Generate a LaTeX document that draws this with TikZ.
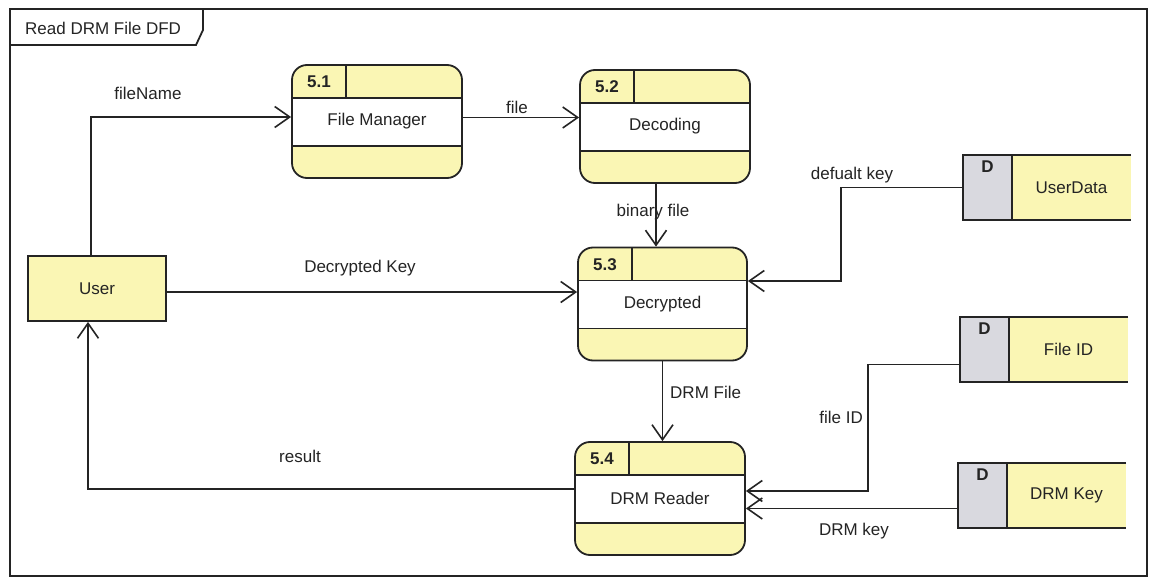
\documentclass[tikz,border=0pt]{standalone}
\usepackage{fontspec}
\setmainfont{Liberation Sans}
\usetikzlibrary{arrows.meta}

\definecolor{procfill}{RGB}{250,246,180}
\definecolor{storegray}{RGB}{217,217,223}
\definecolor{ink}{RGB}{36,36,36}

\tikzset{
  txt/.style={font=\fontsize{17}{20}\selectfont, text=ink, inner sep=0pt},
  idtxt/.style={font=\fontsize{17}{20}\selectfont\bfseries, text=ink, inner sep=0pt},
  edge/.style={draw=ink, line width=1.8pt},
  flow/.style={draw=ink, line width=1.6pt, -{Straight Barb[length=15pt,width=21pt,line width=1.6pt]}},
  % process bubble: id cell on top, name band in the middle, empty footer
  proc/.style={draw=ink, line width=1.8pt, rounded corners=15pt, fill=procfill,
    minimum width=170pt, minimum height=113pt, inner sep=0pt, txt,
    path picture={
      \begin{scope}[sharp corners]
      \fill[white] ([yshift=-33pt]path picture bounding box.north west)
        rectangle ([yshift=32pt]path picture bounding box.south east);
      \draw[edge] ([yshift=-33pt]path picture bounding box.north west)
        -- ([yshift=-33pt]path picture bounding box.north east);
      \draw[edge] ([yshift=32pt]path picture bounding box.south west)
        -- ([yshift=32pt]path picture bounding box.south east);
      \draw[edge] ([xshift=54pt]path picture bounding box.north west)
        -- ([xshift=54pt,yshift=-33pt]path picture bounding box.north west);
      \node[idtxt] at ([xshift=27pt,yshift=-17pt]path picture bounding box.north west) {#1};
      \end{scope}
    }},
  % data store: grey "D" cell, open on the right
  store/.style={minimum width=168pt, minimum height=65pt, inner sep=0pt, fill=procfill,
    path picture={
      \fill[storegray] (path picture bounding box.north west)
        rectangle ([xshift=49pt]path picture bounding box.south west);
      \draw[edge] ([xshift=49pt]path picture bounding box.north west)
        -- ([xshift=49pt]path picture bounding box.south west);
      \node[idtxt] at ([xshift=24.5pt,yshift=-12pt]path picture bounding box.north west) {D};
    }},
  entity/.style={draw=ink, line width=1.8pt, fill=procfill, minimum width=138pt,
    minimum height=65pt, inner sep=0pt, txt},
}

\begin{document}
\begin{tikzpicture}[x=1pt,y=-1pt]
\useasboundingbox (0,0) rectangle (1154,580);
\fill[white] (0,0) rectangle (1154,580);

% diagram frame with title tab
\draw[edge] (10,9) rectangle (1147,576);
\draw[edge] (10,45) -- (196,45) -- (203,30) -- (203,9);
\node[txt, anchor=west] (title) at (25,28) {Read DRM File DFD};

% external entity
\node[entity] (user) at (97,288.5) {User};

% processes
\node[proc=5.1] (p51) at (377,121.5) {File Manager};
\node[proc=5.2] (p52) at (665,126.5) {Decoding};
\node[proc=5.3, minimum width=169pt] (p53) at (662.5,304) {Decrypted};
\node[proc=5.4] (p54) at (660,498.5) {DRM Reader};

% data stores
\node[store] (ud) at (1047,187.5) {};
\node[store] (fid) at (1044,349.5) {};
\node[store] (dk) at (1042,495.5) {};
\foreach \s in {ud,fid,dk}
  \draw[edge] (\s.north east) -- (\s.north west) -- (\s.south west) -- (\s.south east);
\node[txt] (udname) at ([xshift=24.5pt]ud.center) {UserData};
\node[txt] (fidname) at ([xshift=24.5pt]fid.center) {File ID};
\node[txt] (dkname) at ([xshift=24.5pt]dk.center) {DRM Key};

% data flows
\draw[flow] ([xshift=-6pt]user.north) |- ([yshift=4.5pt]p51.west);

\coordinate (fA) at ([yshift=4pt]p51.east);
\draw[flow] (fA) -- (fA -| p52.west);

\coordinate (bA) at ([xshift=-9pt]p52.south);
\draw[flow] (bA) -- (bA |- p53.north);

\coordinate (kA) at ([yshift=-3.5pt]user.east);
\draw[flow] (kA) -- (kA -| p53.west);

\coordinate (dA) at ([yshift=23pt]p53.east);
\draw[flow] (ud.west) -| ([xshift=93pt]dA) -- (dA);

\draw[flow] (p53.south) -- (p53.south |- p54.north);

\coordinate (iA) at ([yshift=7.5pt]p54.east);
\draw[flow] ([yshift=-15pt]fid.west) -| ([xshift=122pt]iA) -- (iA);

\coordinate (rA) at ([yshift=-13pt]dk.west);
\draw[flow] (rA) -- (rA -| p54.east);

\draw[flow] ([yshift=9.5pt]p54.west) -| ([xshift=-9pt]user.south);

% flow labels
\node[txt] (lfn) at (148,93) {fileName};
\node[txt] (lf) at (517,107) {file};
\node[txt] (lbf) at (653,212) {binary file};
\node[txt] (ldk) at (852,175) {defualt key};
\node[txt] (ldec) at (360,268) {Decrypted Key};
\node[txt, anchor=west] (ldrm) at (670,392) {DRM File};
\node[txt, anchor=east] (lfid) at (863,417) {file ID};
\node[txt] (lkey) at (854,531) {DRM key};
\node[txt] (lres) at (300,456) {result};
\end{tikzpicture}
\end{document}
